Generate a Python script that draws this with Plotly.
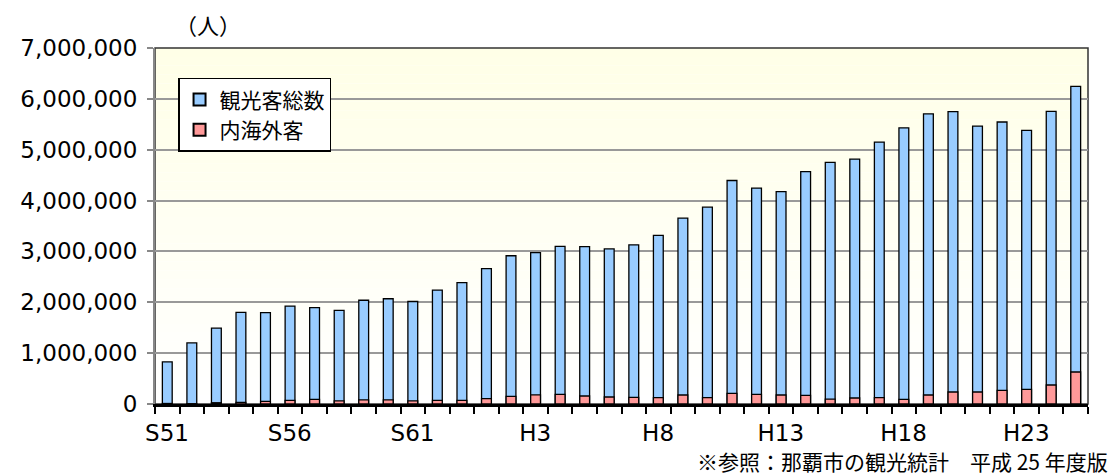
import plotly.graph_objects as go

# Fiscal years, Showa 51 through Heisei 25
years = ["S51", "S52", "S53", "S54", "S55", "S56", "S57", "S58", "S59", "S60",
         "S61", "S62", "S63", "H1", "H2", "H3", "H4", "H5", "H6", "H7",
         "H8", "H9", "H10", "H11", "H12", "H13", "H14", "H15", "H16", "H17",
         "H18", "H19", "H20", "H21", "H22", "H23", "H24", "H25"]

# Total tourists (persons)
total_visitors = [830000, 1200000, 1490000, 1800000, 1795000, 1925000, 1895000, 1840000,
                  2040000, 2070000, 2015000, 2240000, 2385000, 2660000, 2915000, 2975000,
                  3100000, 3095000, 3050000, 3130000, 3315000, 3655000, 3870000, 4395000,
                  4245000, 4175000, 4570000, 4750000, 4815000, 5150000, 5430000, 5705000,
                  5750000, 5465000, 5545000, 5380000, 5755000, 6245000]

# Foreign visitors (persons)
foreign_visitors = [10000, 5000, 25000, 30000, 52000, 72000, 92000, 60000,
                    80000, 80000, 60000, 70000, 72000, 105000, 150000, 180000,
                    190000, 157000, 138000, 130000, 124000, 177000, 124000, 210000,
                    190000, 177000, 170000, 95000, 118000, 124000, 92000, 177000,
                    236000, 236000, 267000, 287000, 374000, 629000]

# Labelled years on the x axis
labeled_years = ["S51", "S56", "S61", "H3", "H8", "H13", "H18", "H23"]

series_names = ["観光客総数", "内海外客"]
unit_label = "（人）"
source_note = "※参照：那覇市の観光統計　平成 25 年度版"

NUM_FONT = "DejaVu Sans, Noto Sans CJK JP"
JP_FONT = "Noto Sans CJK JP, DejaVu Sans"

# One slot per year on a numeric axis; ticks sit on the slot boundaries and
# each label is carried by the boundary just left of its year, shifted half a slot.
pos = list(range(len(years)))
boundaries = [p - 0.5 for p in pos] + [pos[-1] + 0.5]
boundary_text = [y if y in labeled_years else "" for y in years] + [""]

MARGIN_L, MARGIN_R = 155, 30
FIG_W, FIG_H = 1118, 475
half_slot_px = int(round((FIG_W - MARGIN_L - MARGIN_R) / len(years) / 2))

fig = go.Figure()
fig.add_trace(go.Bar(
    x=pos, y=total_visitors, name=series_names[0], customdata=years,
    hovertemplate="%{customdata}: %{y:,}<extra></extra>",
    marker=dict(color="#99CCFF", line=dict(color="#000000", width=1.3)),
    width=0.4,
))
fig.add_trace(go.Bar(
    x=pos, y=foreign_visitors, name=series_names[1], customdata=years,
    hovertemplate="%{customdata}: %{y:,}<extra></extra>",
    marker=dict(color="#FF9999", line=dict(color="#000000", width=1.3)),
    width=0.4,
))

# Cream-to-white vertical gradient behind the plot area
shapes = []
n_strips = 40
for i in range(n_strips):
    t = i / (n_strips - 1)
    b = int(round(255 - 24 * t))  # bottom -> top, white to cream
    shapes.append(dict(
        type="rect", xref="paper", yref="paper", layer="below",
        x0=0, x1=1, y0=i / n_strips, y1=(i + 1) / n_strips,
        fillcolor=f"rgb(255,255,{b})", line=dict(width=0),
    ))
# Plot frame
shapes.append(dict(type="rect", xref="paper", yref="paper", layer="below",
                   x0=0, x1=1, y0=0, y1=1, line=dict(color="#333333", width=1.5)))

fig.update_layout(
    width=FIG_W, height=FIG_H,
    margin=dict(l=MARGIN_L, r=MARGIN_R, t=48, b=71),
    paper_bgcolor="white",
    plot_bgcolor="white",
    barmode="overlay",
    shapes=shapes,
    font=dict(family=NUM_FONT, size=23, color="#000000"),
    showlegend=True,
    legend=dict(
        x=0.0247, y=0.916, xanchor="left", yanchor="top",
        bgcolor="white", bordercolor="#000000", borderwidth=1.5,
        font=dict(family=JP_FONT, size=21, color="#000000"),
        tracegroupgap=0, itemsizing="constant",
    ),
    annotations=[
        dict(text=unit_label, xref="paper", yref="paper", x=0.057, y=1.067,
             xanchor="center", yanchor="middle", showarrow=False,
             font=dict(family=JP_FONT, size=22, color="#000000")),
        dict(text=source_note, xref="paper", yref="paper", x=1.0236, y=-0.16,
             xanchor="right", yanchor="middle", showarrow=False,
             font=dict(family=JP_FONT, size=21, color="#000000")),
    ],
)

fig.update_xaxes(
    range=[-0.5, len(years) - 0.5],
    tickmode="array", tickvals=boundaries, ticktext=boundary_text,
    tickangle=0,
    ticks="outside", ticklen=7, tickwidth=2, tickcolor="#000000",
    ticklabelshift=half_slot_px,
    showline=True, linecolor="#000000", linewidth=2.5,
    showgrid=False, zeroline=False,
    tickfont=dict(family=NUM_FONT, size=23),
    ticklabelstandoff=0,
)
fig.update_yaxes(
    range=[0, 7000000], dtick=1000000, tick0=0,
    tickformat=",d",
    ticks="outside", ticklen=6, tickwidth=2, tickcolor="#888888",
    showline=True, linecolor="#888888", linewidth=2,
    showgrid=True, gridcolor="#999999", gridwidth=1.5,
    zeroline=False,
    tickfont=dict(family=NUM_FONT, size=23),
    ticklabelstandoff=5,
)

fig.write_html("out.html")
